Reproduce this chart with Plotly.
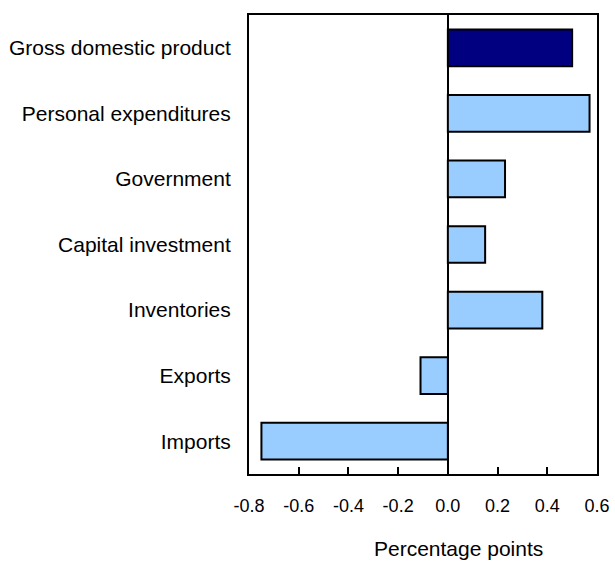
import plotly.graph_objects as go

categories = ["Gross domestic product", "Personal expenditures", "Government",
              "Capital investment", "Inventories", "Exports", "Imports"]
values = [0.50, 0.57, 0.23, 0.15, 0.38, -0.11, -0.75]
colors = ["#000080", "#99CCFF", "#99CCFF", "#99CCFF", "#99CCFF", "#99CCFF", "#99CCFF"]
tick_vals = [-0.8, -0.6, -0.4, -0.2, 0.0, 0.2, 0.4, 0.6]
tick_text = ["-0.8", "-0.6", "-0.4", "-0.2", "0.0", "0.2", "0.4", "0.6"]
axis_title = "Percentage points"

font_family = "Liberation Sans, Arial, Helvetica, sans-serif"

fig = go.Figure(go.Bar(
    y=categories, x=values, orientation="h",
    marker=dict(color=colors, line=dict(color="black", width=2)),
))

fig.update_layout(
    width=615, height=561,
    margin=dict(l=249, r=18, t=15, b=87),
    plot_bgcolor="white", paper_bgcolor="white",
    font=dict(family=font_family, size=20, color="black"),
    bargap=0.44,
    showlegend=False,
    annotations=[dict(
        text=axis_title, xref="paper", yref="paper",
        x=0.6006, y=-0.162, xanchor="center", yanchor="middle",
        showarrow=False, font=dict(size=21),
    )],
)
fig.update_xaxes(
    range=[-0.8, 0.6], tickvals=tick_vals, ticktext=tick_text,
    ticks="inside", ticklen=7, tickwidth=2, tickcolor="black",
    showline=True, linecolor="black", linewidth=2, mirror=True,
    showgrid=False, zeroline=True, zerolinecolor="black", zerolinewidth=2,
    ticklabelstandoff=14, tickfont=dict(size=18), automargin=False,
)
fig.update_yaxes(
    categoryorder="array", categoryarray=categories, autorange="reversed",
    showline=True, linecolor="black", linewidth=2, mirror=True,
    showgrid=False, ticks="", ticklabelstandoff=12, automargin=False,
    tickfont=dict(size=21),
)

fig.write_html(
    "out.html",
    config={"displayModeBar": False},
    post_script="document.body.style.margin='0';document.body.style.padding='0';",
)
